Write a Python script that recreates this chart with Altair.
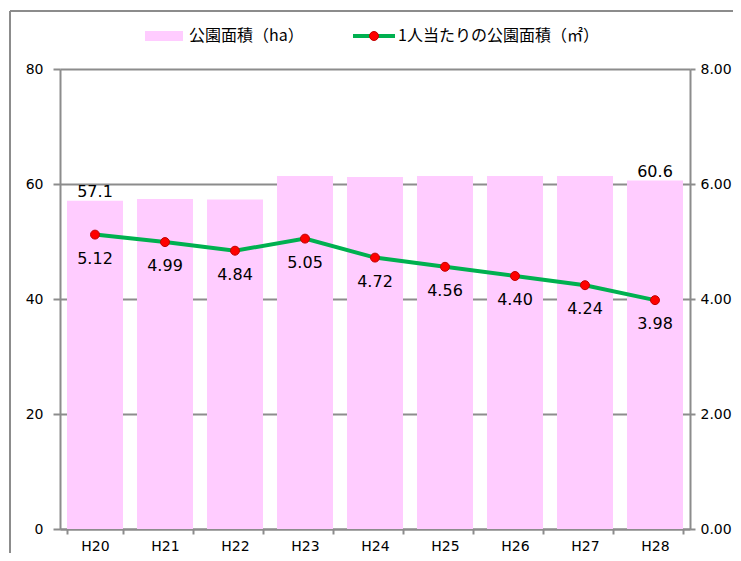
import altair as alt
import pandas as pd

years = ["H20", "H21", "H22", "H23", "H24", "H25", "H26", "H27", "H28"]
park_area = [57.1, 57.4, 57.3, 61.4, 61.2, 61.4, 61.4, 61.4, 60.6]
per_person = [5.12, 4.99, 4.84, 5.05, 4.72, 4.56, 4.40, 4.24, 3.98]
bar_label_years = ["H20", "H28"]
legend_bar = "公園面積（ha）"
legend_line = "1人当たりの公園面積（㎡）"

df = pd.DataFrame({"year": years, "area": park_area, "pp": per_person})

NUM_FONT = "DejaVu Sans"
JP_FONT = "Noto Sans CJK JP"
GRAY = "#8c8c8c"

x = alt.X("year:N", sort=years, title=None,
          scale=alt.Scale(paddingInner=0.2, paddingOuter=0.1),
          axis=alt.Axis(labelAngle=0, tickBand="extent", domainColor=GRAY, domainWidth=2,
                        tickColor=GRAY, tickWidth=2, tickSize=5, labelFontSize=14,
                        labelFont=NUM_FONT, labelColor="black", labelPadding=5))

yL = alt.Y("area:Q", title=None, scale=alt.Scale(domain=[0, 80]),
           axis=alt.Axis(values=[0, 20, 40, 60, 80], grid=True, gridColor=GRAY, gridWidth=2,
                         domainColor=GRAY, domainWidth=2, tickColor=GRAY, tickWidth=2,
                         tickSize=7, labelFontSize=14, labelFont=NUM_FONT, labelColor="black",
                         labelPadding=10))

bars = alt.Chart(df).mark_bar(color="#FFCCFF").encode(x=x, y=yL)
bar_text = alt.Chart(df).transform_filter(
    alt.FieldOneOfPredicate(field="year", oneOf=bar_label_years)
).mark_text(font=NUM_FONT, fontSize=16, baseline="bottom", dy=-1, color="black").encode(
    x=x, y=alt.Y("area:Q", scale=alt.Scale(domain=[0, 80])), text=alt.Text("area:Q", format=".1f"))

left = alt.layer(bars, bar_text)

yR = alt.Y("pp:Q", title=None, scale=alt.Scale(domain=[0, 8]),
           axis=alt.Axis(orient="right", values=[0, 2, 4, 6, 8], format=".2f", grid=False,
                         domainColor=GRAY, domainWidth=2, tickColor=GRAY, tickWidth=2,
                         tickSize=5, labelFontSize=14, labelFont=NUM_FONT, labelColor="black",
                         labelPadding=5))

line = alt.Chart(df).mark_line(color="#00B050", strokeWidth=4).encode(x=x, y=yR)
pts = alt.Chart(df).mark_point(filled=True, color="#FF0000", size=80, opacity=1,
                               stroke="#C00000", strokeWidth=1).encode(
    x=x, y=alt.Y("pp:Q", scale=alt.Scale(domain=[0, 8])))
line_text = alt.Chart(df).mark_text(font=NUM_FONT, fontSize=16, baseline="middle", dy=24,
                                    color="black").encode(
    x=x, y=alt.Y("pp:Q", scale=alt.Scale(domain=[0, 8])), text=alt.Text("pp:Q", format=".2f"))

right = alt.layer(line, pts, line_text)

# legend and frame (decoration)
leg = pd.DataFrame({"k": [0]})
leg_rect = alt.Chart(leg).mark_rect(color="#FFCCFF").encode(
    x=alt.value(85), x2=alt.value(123), y=alt.value(-38), y2=alt.value(-28))
leg_t1 = alt.Chart(leg).mark_text(font=JP_FONT, fontSize=16, align="left", baseline="middle",
                                  color="black", text=legend_bar).encode(
    x=alt.value(129), y=alt.value(-33))
leg_line = alt.Chart(leg).mark_rule(color="#00B050", strokeWidth=4).encode(
    x=alt.value(293), x2=alt.value(335), y=alt.value(-33))
leg_pt = alt.Chart(leg).mark_point(filled=True, color="#FF0000", size=80, opacity=1,
                                   stroke="#C00000", strokeWidth=1).encode(
    x=alt.value(314), y=alt.value(-33))
leg_t2 = alt.Chart(leg).mark_text(font=JP_FONT, fontSize=16, align="left", baseline="middle",
                                  color="black", text=legend_line).encode(
    x=alt.value(338), y=alt.value(-33))
frame_top = alt.Chart(leg).mark_rule(color=GRAY, strokeWidth=2).encode(
    x=alt.value(-50), x2=alt.value(680), y=alt.value(-58))
frame_left = alt.Chart(leg).mark_rule(color=GRAY, strokeWidth=2).encode(
    x=alt.value(-50), y=alt.value(-58), y2=alt.value(490))
deco = alt.layer(leg_rect, leg_t1, leg_line, leg_pt, leg_t2, frame_top, frame_left)

chart = alt.layer(left, right, deco).resolve_scale(y="independent").properties(
    width=630, height=460,
    autosize=alt.AutoSizeParams(type="none"),
    padding={"left": 52, "top": 61, "right": 43, "bottom": 24},
).configure_view(stroke=None)

chart.save("out.html", embed_options={"renderer": "svg", "actions": False})
